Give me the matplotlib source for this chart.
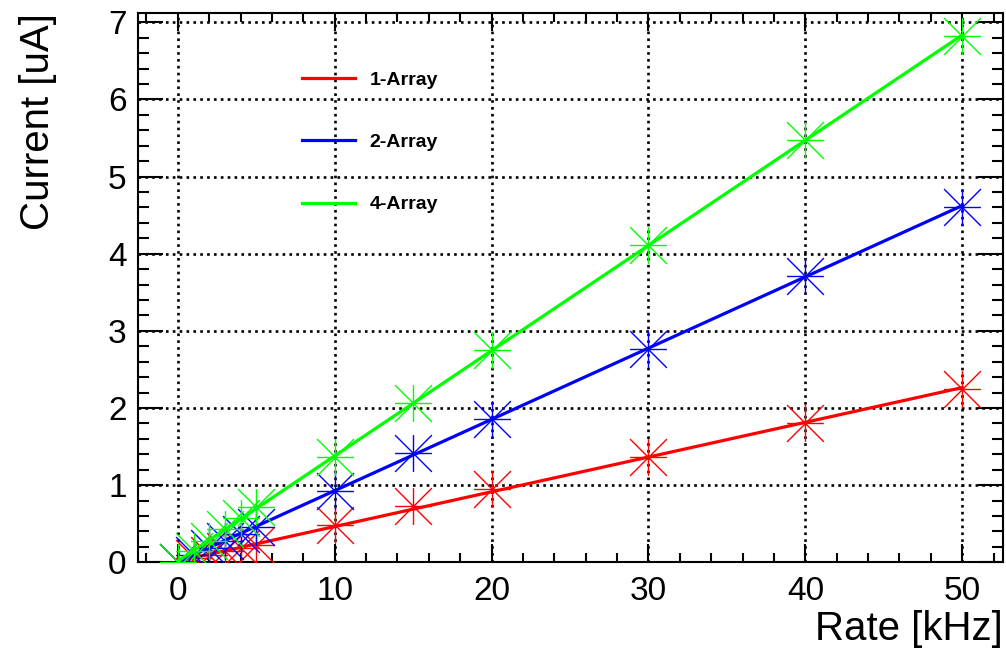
import numpy as np
import matplotlib
matplotlib.use("Agg")
import matplotlib.pyplot as plt
from matplotlib.path import Path
from matplotlib.lines import Line2D
from matplotlib.ticker import MultipleLocator

plt.rcParams['font.family'] = ['Liberation Sans', 'DejaVu Sans']

rate = [0, 1, 2, 3, 4, 5, 10, 15, 20, 30, 40, 50]
cur_1array = [0.0, 0.05, 0.09, 0.14, 0.18, 0.23, 0.48, 0.73, 0.95, 1.36, 1.80, 2.25]
cur_2array = [0.0, 0.09, 0.19, 0.28, 0.37, 0.46, 0.93, 1.41, 1.86, 2.77, 3.71, 4.61]
cur_4array = [0.0, 0.14, 0.28, 0.43, 0.57, 0.72, 1.36, 2.07, 2.75, 4.11, 5.48, 6.82]

labels = ['1-Array', '2-Array', '4-Array']
colors = ['#ff0000', '#0000ff', '#00ff00']

# ROOT style asterisk marker: + and x in one path
star = Path([(-1, 0), (1, 0), (0, -1), (0, 1), (-1, -1), (1, 1), (-1, 1), (1, -1)],
            [Path.MOVETO, Path.LINETO] * 4)

fig = plt.figure(figsize=(10.06, 6.5), dpi=100)
ax = fig.add_axes([0.137, 0.135, 0.86, 0.845])

x = np.array(rate)
for i, (ys, c) in enumerate(zip([cur_1array, cur_2array, cur_4array], colors)):
    ys = np.array(ys)
    # straight-line fit through the points, drawn over the data range
    k, b = np.polyfit(x, ys, 1)
    xf = np.array([0, 50])
    ax.plot(xf, k * xf + b, color=c, lw=2.3, zorder=3 + i)
    ax.plot(x, ys, ls='none', marker=star, ms=26.5, mew=1.0, mec=c, mfc='none', zorder=3 + i)

ax.set_xlim(-2.55, 52.6)
ax.set_ylim(0, 7.12)

ax.xaxis.set_major_locator(MultipleLocator(10))
ax.xaxis.set_minor_locator(MultipleLocator(2))
ax.yaxis.set_major_locator(MultipleLocator(1))
ax.yaxis.set_minor_locator(MultipleLocator(0.2))

ax.grid(True, which='major', color='black', ls=(0, (1, 1.6)), lw=1.9)
ax.set_axisbelow(True)

ax.tick_params(axis='x', which='major', direction='in', length=13, width=1.5,
               top=True, labelsize=24, pad=10)
ax.tick_params(axis='x', which='minor', direction='in', length=6.5, width=1.5, top=True)
ax.tick_params(axis='y', which='major', direction='in', length=18, width=1.5,
               right=True, labelsize=24, pad=8)
ax.tick_params(axis='y', which='minor', direction='in', length=8, width=1.5, right=True)
for s in ax.spines.values():
    s.set_linewidth(1.5)

ax.set_xlabel('Rate [kHz]', fontsize=29, loc='right', labelpad=2)
ax.set_ylabel('Current [uA]', fontsize=29, loc='top', labelpad=37)

handles = [Line2D([], [], color=c, lw=2.3) for c in colors]
ax.legend(handles, labels, loc='upper left', bbox_to_anchor=(0.19, 0.894),
          frameon=False, prop={'weight': 'bold', 'size': 14},
          handlelength=2.7, handletextpad=0.75, labelspacing=2.3,
          borderpad=0, borderaxespad=0)

fig.savefig('out.png', dpi=100)
